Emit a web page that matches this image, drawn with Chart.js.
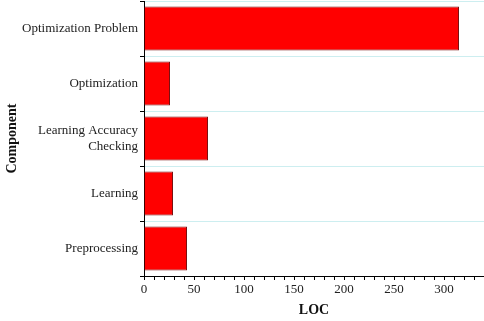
<!DOCTYPE html>
<html>
<head>
<meta charset="utf-8">
<script src="https://cdn.jsdelivr.net/npm/chart.js@4/dist/chart.umd.min.js"></script>
<style>
  html, body { margin: 0; padding: 0; background: #fff; }
  #wrap { width: 484px; height: 321px; }
</style>
</head>
<body>
<div id="wrap"><canvas id="locChart"></canvas></div>
<script>
const components = ["Optimization Problem", "Optimization", ["Learning Accuracy", "Checking"], "Learning", "Preprocessing"];
const locValues = [315, 26, 64, 29, 43];
const xMax = 340;
const xLabelStep = 50;

const ctx = document.getElementById("locChart").getContext("2d");

new Chart(ctx, {
  type: "bar",
  data: {
    labels: components,
    datasets: [{
      data: locValues,
      backgroundColor: "#ff0000",
      borderColor: "#7a1010",
      borderWidth: 1,
      barPercentage: 0.8,
      categoryPercentage: 1
    }]
  },
  options: {
    indexAxis: "y",
    responsive: true,
    maintainAspectRatio: false,
    animation: false,
    layout: { padding: { top: 1, right: 0, bottom: 0, left: 0 } },
    plugins: {
      legend: { display: false },
      tooltip: { enabled: false }
    },
    scales: {
      x: {
        min: 0,
        max: xMax,
        ticks: {
          stepSize: 10,
          autoSkip: false,
          maxRotation: 0,
          padding: 2,
          color: "#222",
          font: { family: "Liberation Serif", size: 13 },
          callback: v => (v % xLabelStep === 0 ? v : "")
        },
        grid: { drawOnChartArea: false, tickLength: 4, tickColor: "#000" },
        border: { color: "#000", width: 1 },
        title: {
          display: true,
          text: "LOC",
          color: "#111",
          font: { family: "Liberation Serif", size: 14, weight: "bold" },
          padding: { top: 8, bottom: 2 }
        },
        afterFit(scale) {
          scale.height = 45;
          scale.paddingLeft = 0;
          scale.paddingRight = 0;
        }
      },
      y: {
        offset: true,
        ticks: {
          color: "#222",
          padding: 2,
          font: { family: "Liberation Serif", size: 13 }
        },
        grid: { color: "#cdeef0", tickLength: 4, tickColor: "#000", offset: true },
        border: { color: "#000", width: 1 },
        title: {
          display: true,
          text: "Component",
          color: "#111",
          font: { family: "Liberation Serif", size: 14, weight: "bold" },
          padding: { top: 4, bottom: 0 }
        },
        afterFit(scale) {
          scale.width = 144;
          scale.paddingTop = 0;
          scale.paddingBottom = 0;
        }
      }
    }
  }
});
</script>
</body>
</html>
